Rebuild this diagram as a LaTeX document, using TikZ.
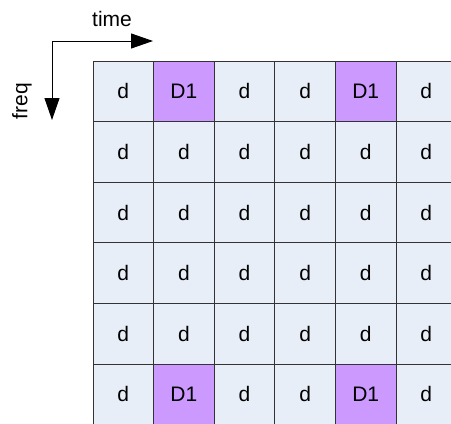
\documentclass[tikz,border=0pt]{standalone}
\usepackage{fontspec}
\setmainfont{Liberation Sans}
\usetikzlibrary{arrows.meta}
\definecolor{cellblue}{HTML}{E8EEF7}
\definecolor{cellpurple}{HTML}{CC99FF}
\tikzset{
  cell/.style={draw=black!80,line width=1pt,fill=cellblue,minimum width=60.6pt,
    minimum height=60.6pt,inner sep=0pt,font=\fontsize{21}{25}\selectfont},
  pilot/.style={cell,fill=cellpurple},
  axis/.style={line width=1pt,-{Triangle[length=22pt,width=15pt]}}
}
\begin{document}
\begin{tikzpicture}[x=1pt,y=-1pt]
        \useasboundingbox (0,0) rectangle (451,424);
        \clip (0,0) rectangle (451,424);

        \coordinate (O) at (52,41);
        \coordinate (T) at (153,41);
        \coordinate (F) at (52,120);
        \node[font=\fontsize{21}{25}\selectfont] (time) at (112,19) {time};
        \node[font=\fontsize{21}{25}\selectfont,rotate=90] (freq) at (22,101) {freq};

        \draw[axis] (O)--(T);
        \draw[axis] (O)--(F);

        % data grid, row r and column c; D1 in rows 0 and 5, columns 1 and 4
        \foreach \r in {0,...,5}
          \foreach \c in {0,...,5}{
            \pgfmathtruncatemacro\ispilot{and(or(\r==0,\r==5),or(\c==1,\c==4))}
            \ifnum\ispilot=1
              \node[pilot] (c\r\c) at ({123.3+60.6*\c},{91.3+60.6*\r}) {D1};
            \else
              \node[cell] (c\r\c) at ({123.3+60.6*\c},{91.3+60.6*\r}) {d};
            \fi
          }
    \end{tikzpicture}
\end{document}
